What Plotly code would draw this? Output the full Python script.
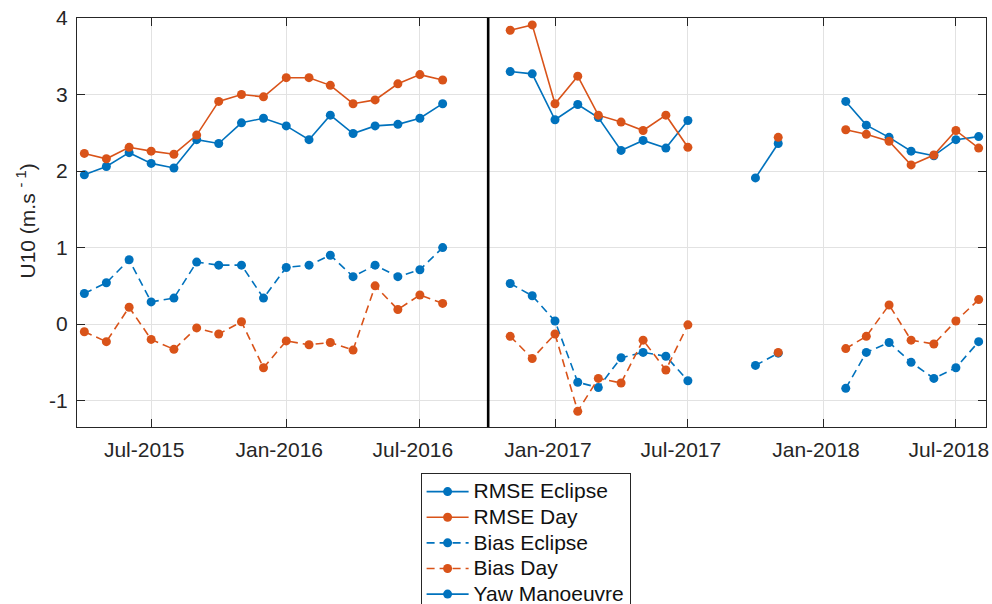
import pandas as pd
import plotly.graph_objects as go

# Monthly samples, April 2015 to August 2018 (None = no data that month)
months = pd.date_range("2015-04-01", "2018-08-01", freq="MS")

rmse_eclipse = [1.95, 2.06, 2.24, 2.10, 2.04, 2.41, 2.36, 2.63, 2.69, 2.59, 2.41, 2.73,
                2.49, 2.59, 2.61, 2.69, 2.88, None, None,
                3.30, 3.27, 2.67, 2.87, 2.70, 2.27, 2.40, 2.30, 2.66, None, None,
                1.91, 2.36, None, None,
                2.91, 2.60, 2.44, 2.26, 2.20, 2.41, 2.45]

rmse_day = [2.23, 2.16, 2.31, 2.26, 2.22, 2.47, 2.91, 3.00, 2.97, 3.22, 3.22, 3.12,
            2.88, 2.93, 3.14, 3.26, 3.19, None, None,
            3.84, 3.91, 2.88, 3.24, 2.73, 2.64, 2.53, 2.73, 2.31, None, None,
            None, 2.44, None, None,
            2.54, 2.48, 2.39, 2.08, 2.21, 2.53, 2.30]

bias_eclipse = [0.40, 0.54, 0.84, 0.29, 0.34, 0.81, 0.77, 0.77, 0.34, 0.74, 0.77, 0.90,
                0.62, 0.77, 0.62, 0.71, 1.00, None, None,
                0.53, 0.37, 0.04, -0.76, -0.83, -0.44, -0.37, -0.42, -0.74, None, None,
                -0.54, -0.38, None, None,
                -0.84, -0.37, -0.24, -0.50, -0.71, -0.57, -0.23]

bias_day = [-0.10, -0.23, 0.22, -0.20, -0.33, -0.05, -0.13, 0.03, -0.57, -0.22, -0.27, -0.24,
            -0.34, 0.50, 0.19, 0.38, 0.27, None, None,
            -0.16, -0.45, -0.13, -1.14, -0.71, -0.77, -0.21, -0.60, -0.01, None, None,
            None, -0.37, None, None,
            -0.32, -0.16, 0.25, -0.21, -0.26, 0.04, 0.32]

yaw_date = "2016-10-02"
x_range = ["2015-03-22", "2018-08-11"]
y_range = [-1.345, 4]
x_tick_dates = ["2015-07-01", "2016-01-01", "2016-07-01", "2017-01-01",
                "2017-07-01", "2018-01-01", "2018-07-01"]
x_tick_labels = ["Jul-2015", "Jan-2016", "Jul-2016", "Jan-2017",
                 "Jul-2017", "Jan-2018", "Jul-2018"]
y_ticks = [-1, 0, 1, 2, 3, 4]

BLUE = "#0072BD"
ORANGE = "#D95319"
INK = "#262626"
FONT = "Liberation Sans, Arial, Helvetica, sans-serif"
LABEL_SIZE = 21


def legend_label(text):
    # larger glyphs than the legend's own row height allows
    return f'<span style="font-size:{LABEL_SIZE}px">{text}</span>'


fig = go.Figure()


def add_series(name, values, color, dash):
    fig.add_trace(go.Scatter(
        x=months, y=values, name=legend_label(name), mode="lines+markers",
        connectgaps=False,
        line=dict(color=color, width=1.6, dash=dash),
        marker=dict(color=color, size=9),
    ))


add_series("RMSE Eclipse", rmse_eclipse, BLUE, "solid")
add_series("RMSE Day", rmse_day, ORANGE, "solid")
add_series("Bias Eclipse", bias_eclipse, BLUE, "8px,5px")
add_series("Bias Day", bias_day, ORANGE, "8px,5px")

# Yaw manoeuvre marker line
fig.add_trace(go.Scatter(
    x=[yaw_date, yaw_date], y=y_range, mode="lines",
    line=dict(color="black", width=2.6), showlegend=False, hoverinfo="skip",
))
fig.add_trace(go.Scatter(
    x=[None], y=[None], name=legend_label("Yaw Manoeuvre"), mode="lines+markers",
    line=dict(color=BLUE, width=1.6), marker=dict(color=BLUE, size=9),
))

axis_common = dict(
    showline=True, linecolor=INK, linewidth=1, mirror="ticks",
    ticks="inside", ticklen=8, tickcolor=INK, tickwidth=1,
    showgrid=True, gridcolor="#e2e2e2", gridwidth=1,
    zeroline=False,
    tickfont=dict(family=FONT, size=LABEL_SIZE, color=INK),
)

fig.update_xaxes(
    range=x_range, tickvals=x_tick_dates, ticktext=x_tick_labels,
    ticklabelstandoff=4, ticklabelshift=-7, ticklabeloverflow="allow", **axis_common,
)
fig.update_yaxes(
    range=y_range, tickvals=y_ticks, ticktext=[str(v) for v in y_ticks],
    ticklabelstandoff=4, **axis_common,
)

# y-axis title
fig.add_annotation(
    text="U10 (m.s <sup>- 1</sup>)", textangle=-90,
    xref="paper", yref="paper", x=-0.0561, y=0.5024,
    xanchor="center", yanchor="middle", showarrow=False,
    font=dict(family=FONT, size=LABEL_SIZE, color=INK),
)

fig.update_layout(
    width=992, height=604,
    margin=dict(l=77, r=6, t=18, b=177, autoexpand=False),
    paper_bgcolor="white", plot_bgcolor="white",
    font=dict(family=FONT, color=INK),
    legend=dict(
        x=0.378, y=-0.112, xanchor="left", yanchor="top",
        bgcolor="white", bordercolor=INK, borderwidth=1,
        font=dict(family=FONT, size=17.4, color="#111111"),
        itemwidth=42, tracegroupgap=0,
    ),
    showlegend=True,
)

fig.write_html("out.html")
